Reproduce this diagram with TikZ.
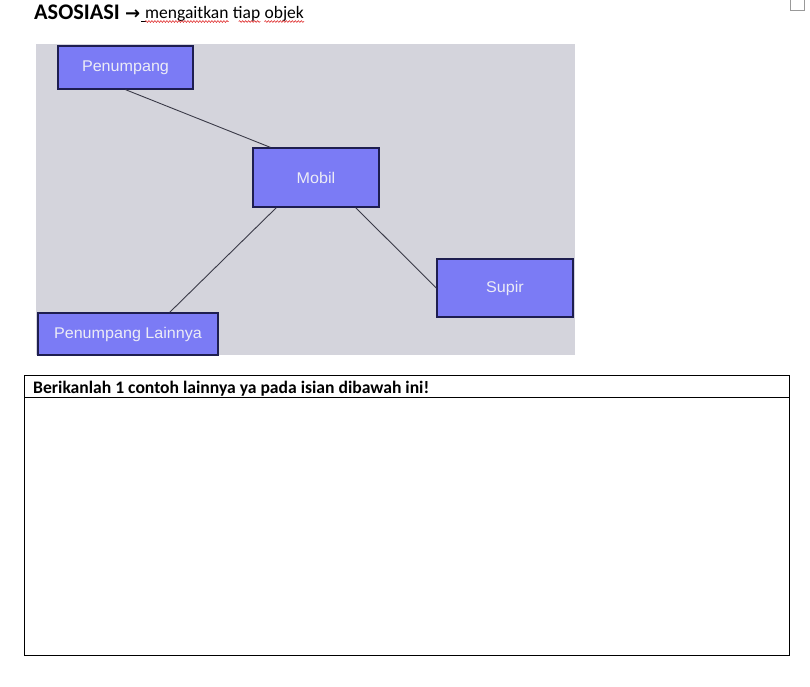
\documentclass[tikz,border=0pt]{standalone}
\usepackage{fontspec}
\setmainfont{Carlito}
\newfontfamily\arialf{Liberation Sans}
\newfontfamily\djv{DejaVu Sans}
\usetikzlibrary{decorations.pathmorphing}
\definecolor{bgimg}{HTML}{D4D4DC}
\definecolor{boxfill}{HTML}{7B7BF5}
\definecolor{boxline}{HTML}{1E1E50}
\definecolor{boxtext}{HTML}{ECECF6}
\definecolor{linkc}{HTML}{3A3A48}
\definecolor{spellred}{HTML}{E03030}
\tikzset{
  classbox/.style={draw=boxline, line width=1.3pt, fill=boxfill, inner sep=0pt,
    text=boxtext, font=\arialf\fontsize{15.5}{17}\selectfont},
  link/.style={draw=linkc, line width=0.9pt},
  wavy/.style={draw=spellred, line width=0.6pt, decorate,
    decoration={snake, amplitude=0.9pt, segment length=3pt}},
  word/.style={anchor=base west, inner sep=0pt, font=\fontsize{17.5}{20}\selectfont}
}
\begin{document}
\begin{tikzpicture}[x=1pt,y=-1pt]
\useasboundingbox (0,0) rectangle (810,686);
\fill[white] (0,0) rectangle (810,686);
% top-right small box
\draw[draw=gray!80, line width=1pt] (790.5,-1) rectangle (804.5,10.5);
% title
\node[anchor=base west, inner sep=0pt, font=\bfseries\fontsize{22.3}{24}\selectfont] (title) at (34,19) {ASOSIASI};
\node[anchor=base west, inner sep=0pt, font=\djv\bfseries\fontsize{18}{20}\selectfont] (arr) at (125,19) {→};
\node[word] (w1) at (145,18.5) {mengaitkan};
\node[word] (w2) at ([xshift=4pt]w1.base east) {tiap};
\node[word] (w3) at ([xshift=4pt]w2.base east) {objek};
\draw[line width=0.6pt] (141,21) -- (145.5,21);
\draw[wavy] (w1.base west |- 0,21.5) -- (w1.base east |- 0,21.5);
\draw[wavy] ([xshift=6pt]w2.base west |- 0,21.5) -- (w2.base east |- 0,21.5);
\draw[wavy] (w3.base west |- 0,21.5) -- (w3.base east |- 0,21.5);
% picture background
\fill[bgimg] (36,44) rectangle (575,355);
% class boxes
\node[classbox, minimum width=135pt, minimum height=43pt] (pen) at (125.5,67.5) {\scalebox{1.04}[1]{Penumpang}};
\node[classbox, minimum width=126pt, minimum height=59pt] (mob) at (316,177.5) {\scalebox{1.04}[1]{Mobil}};
\node[classbox, minimum width=136pt, minimum height=58pt] (sup) at (505,288) {\scalebox{1.04}[1]{Supir}};
\node[classbox, minimum width=180pt, minimum height=42pt] (pl) at (128,334) {\scalebox{1.04}[1]{Penumpang Lainnya}};
% connectors
\draw[link] (pen.south) -- ([xshift=18pt]mob.north west);
\draw[link] ([xshift=24pt]mob.south west) -- ([xshift=-49pt]pl.north east);
\draw[link] ([xshift=-24pt]mob.south east) -- (sup.west);
% answer table
\draw[line width=0.9pt] (24,375) rectangle (789,655);
\draw[line width=0.9pt] (24,397) -- (789,397);
\node[anchor=base west, inner sep=0pt, font=\bfseries\fontsize{17.6}{19}\selectfont] (hdr) at (33,393) {Berikanlah 1 contoh lainnya ya pada isian dibawah ini!};
\end{tikzpicture}
\end{document}
